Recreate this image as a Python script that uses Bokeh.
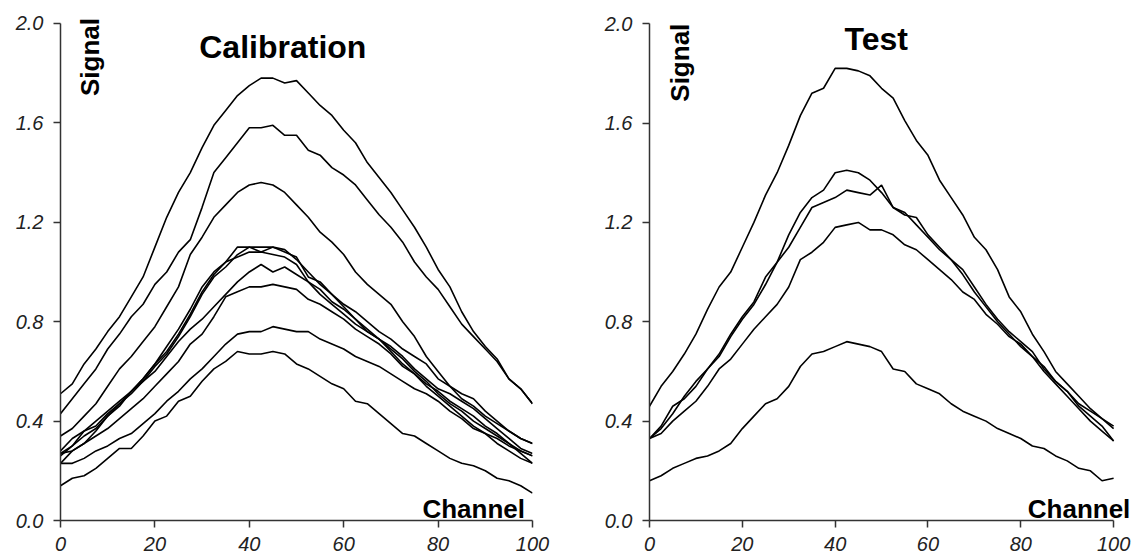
import math
from bokeh.plotting import figure
from bokeh.layouts import row
from bokeh.models import Range1d, FixedTicker, PrintfTickFormatter, Label
from bokeh.embed import file_html
from bokeh.resources import INLINE

# Channel grid shared by every spectrum
channels = [0, 2.5, 5, 7.5, 10, 12.5, 15, 17.5, 20, 22.5, 25, 27.5, 30, 32.5, 35, 37.5,
            40, 42.5, 45, 47.5, 50, 52.5, 55, 57.5, 60, 62.5, 65, 67.5, 70, 72.5, 75,
            77.5, 80, 82.5, 85, 87.5, 90, 92.5, 95, 97.5, 100]

# Calibration spectra (signal per channel)
cal_1 = [0.51, 0.55, 0.63, 0.69, 0.76, 0.82, 0.90, 0.98, 1.10, 1.22, 1.32, 1.40, 1.50, 1.59, 1.65, 1.71,
         1.75, 1.78, 1.78, 1.76, 1.77, 1.72, 1.67, 1.63, 1.57, 1.52, 1.44, 1.38, 1.32, 1.25, 1.18,
         1.10, 1.01, 0.94, 0.84, 0.76, 0.70, 0.65, 0.57, 0.53, 0.47]
cal_2 = [0.43, 0.49, 0.55, 0.61, 0.69, 0.75, 0.82, 0.87, 0.95, 1.00, 1.08, 1.13, 1.26, 1.40, 1.46, 1.52,
         1.58, 1.58, 1.59, 1.55, 1.55, 1.49, 1.47, 1.42, 1.39, 1.35, 1.29, 1.23, 1.18, 1.12, 1.04,
         0.98, 0.93, 0.86, 0.79, 0.74, 0.69, 0.64, 0.57, 0.53, 0.47]
cal_3 = [0.34, 0.37, 0.42, 0.47, 0.54, 0.61, 0.66, 0.72, 0.78, 0.86, 0.94, 1.07, 1.14, 1.22, 1.27, 1.32,
         1.35, 1.36, 1.35, 1.32, 1.27, 1.22, 1.16, 1.12, 1.07, 1.00, 0.95, 0.91, 0.87, 0.80, 0.74,
         0.66, 0.60, 0.54, 0.49, 0.46, 0.42, 0.39, 0.36, 0.33, 0.31]
cal_4 = [0.28, 0.33, 0.36, 0.38, 0.43, 0.47, 0.51, 0.56, 0.62, 0.67, 0.74, 0.82, 0.91, 0.98, 1.02, 1.07,
         1.10, 1.10, 1.10, 1.09, 1.05, 1.00, 0.95, 0.91, 0.87, 0.84, 0.80, 0.76, 0.73, 0.69, 0.66,
         0.63, 0.57, 0.54, 0.51, 0.49, 0.44, 0.40, 0.36, 0.33, 0.31]
cal_5 = [0.27, 0.30, 0.36, 0.40, 0.44, 0.48, 0.52, 0.57, 0.63, 0.68, 0.75, 0.83, 0.92, 0.99, 1.04, 1.10,
         1.10, 1.08, 1.10, 1.08, 1.06, 0.98, 0.96, 0.91, 0.86, 0.81, 0.77, 0.73, 0.70, 0.66, 0.61,
         0.57, 0.53, 0.51, 0.48, 0.45, 0.41, 0.37, 0.33, 0.29, 0.27]
cal_6 = [0.26, 0.30, 0.34, 0.37, 0.42, 0.46, 0.52, 0.57, 0.63, 0.70, 0.77, 0.85, 0.94, 1.00, 1.04, 1.06,
         1.08, 1.08, 1.07, 1.06, 1.03, 0.96, 0.91, 0.87, 0.83, 0.79, 0.76, 0.73, 0.68, 0.63, 0.59,
         0.55, 0.52, 0.48, 0.45, 0.42, 0.38, 0.35, 0.31, 0.27, 0.23]
cal_7 = [0.27, 0.28, 0.31, 0.36, 0.42, 0.47, 0.52, 0.56, 0.60, 0.66, 0.72, 0.77, 0.81, 0.86, 0.91, 0.96,
         1.00, 1.03, 1.00, 1.02, 0.99, 0.96, 0.93, 0.88, 0.85, 0.81, 0.76, 0.73, 0.69, 0.65, 0.60,
         0.56, 0.51, 0.47, 0.44, 0.40, 0.37, 0.34, 0.31, 0.28, 0.26]
cal_8 = [0.23, 0.28, 0.31, 0.34, 0.37, 0.41, 0.45, 0.49, 0.54, 0.59, 0.64, 0.71, 0.75, 0.82, 0.90, 0.92,
         0.94, 0.94, 0.95, 0.94, 0.93, 0.89, 0.87, 0.84, 0.81, 0.77, 0.74, 0.71, 0.67, 0.62, 0.59,
         0.54, 0.50, 0.46, 0.42, 0.38, 0.35, 0.31, 0.28, 0.25, 0.23]
cal_9 = [0.23, 0.23, 0.25, 0.28, 0.30, 0.33, 0.35, 0.39, 0.43, 0.48, 0.52, 0.57, 0.61, 0.66, 0.71, 0.75,
         0.76, 0.76, 0.78, 0.77, 0.76, 0.76, 0.73, 0.71, 0.69, 0.66, 0.64, 0.62, 0.59, 0.56, 0.53,
         0.51, 0.48, 0.44, 0.41, 0.37, 0.35, 0.33, 0.30, 0.28, 0.26]
cal_10 = [0.14, 0.17, 0.18, 0.21, 0.25, 0.29, 0.29, 0.34, 0.40, 0.42, 0.48, 0.50, 0.56, 0.61, 0.64, 0.68,
          0.67, 0.67, 0.68, 0.67, 0.63, 0.61, 0.58, 0.55, 0.53, 0.48, 0.47, 0.43, 0.39, 0.35, 0.34,
          0.31, 0.28, 0.25, 0.23, 0.22, 0.20, 0.17, 0.16, 0.14, 0.11]

# Test spectra
test_1 = [0.46, 0.54, 0.60, 0.67, 0.75, 0.85, 0.94, 1.00, 1.10, 1.20, 1.31, 1.40, 1.51, 1.63, 1.72, 1.74,
          1.82, 1.82, 1.81, 1.79, 1.74, 1.70, 1.61, 1.53, 1.47, 1.37, 1.30, 1.23, 1.14, 1.09, 1.01,
          0.90, 0.84, 0.75, 0.68, 0.60, 0.55, 0.50, 0.45, 0.41, 0.37]
test_2 = [0.33, 0.38, 0.46, 0.49, 0.54, 0.61, 0.67, 0.75, 0.82, 0.88, 0.98, 1.04, 1.15, 1.24, 1.30, 1.33,
          1.40, 1.41, 1.40, 1.37, 1.32, 1.26, 1.23, 1.22, 1.15, 1.10, 1.05, 1.01, 0.94, 0.87, 0.81,
          0.76, 0.72, 0.68, 0.61, 0.56, 0.52, 0.46, 0.42, 0.38, 0.32]
test_3 = [0.33, 0.37, 0.43, 0.50, 0.56, 0.61, 0.66, 0.74, 0.81, 0.87, 0.95, 1.04, 1.10, 1.18, 1.26, 1.28,
          1.30, 1.33, 1.32, 1.31, 1.35, 1.26, 1.24, 1.19, 1.14, 1.09, 1.05, 0.99, 0.92, 0.86, 0.80,
          0.75, 0.70, 0.66, 0.60, 0.55, 0.50, 0.45, 0.40, 0.36, 0.32]
test_4 = [0.33, 0.35, 0.40, 0.44, 0.48, 0.54, 0.61, 0.65, 0.71, 0.77, 0.82, 0.87, 0.94, 1.05, 1.08, 1.12,
          1.18, 1.19, 1.20, 1.17, 1.17, 1.15, 1.11, 1.09, 1.05, 1.01, 0.97, 0.92, 0.89, 0.83, 0.79,
          0.74, 0.71, 0.66, 0.62, 0.56, 0.52, 0.47, 0.44, 0.41, 0.38]
test_5 = [0.16, 0.18, 0.21, 0.23, 0.25, 0.26, 0.28, 0.31, 0.37, 0.42, 0.47, 0.49, 0.54, 0.62, 0.67, 0.68,
          0.70, 0.72, 0.71, 0.70, 0.68, 0.61, 0.60, 0.55, 0.53, 0.51, 0.47, 0.44, 0.42, 0.40, 0.37,
          0.35, 0.33, 0.30, 0.29, 0.26, 0.24, 0.21, 0.20, 0.16, 0.17]

x_ticks = [0, 20, 40, 60, 80, 100]
y_ticks = [0.0, 0.4, 0.8, 1.2, 1.6, 2.0]

FONT = "Liberation Sans"


def make_panel(width, borders, x_end, y_end, series, title, title_pos,
               signal_pos, channel_pos):
    left, right, top, bottom = borders
    p = figure(width=width, height=556, title=None,
               x_range=Range1d(0, x_end), y_range=Range1d(0, y_end),
               output_backend="svg", toolbar_location=None,
               min_border_left=left, min_border_right=right,
               min_border_top=top, min_border_bottom=bottom)
    p.outline_line_color = None
    p.xgrid.visible = False
    p.ygrid.visible = False
    p.background_fill_color = "white"
    p.border_fill_color = "white"

    for ys in series:
        p.line(channels, ys, line_color="black", line_width=1.6)

    for ax in (p.xaxis[0], p.yaxis[0]):
        ax.axis_line_color = "#333333"
        ax.axis_line_width = 1.5
        ax.major_tick_line_color = "#333333"
        ax.major_tick_line_width = 1.5
        ax.major_tick_out = 7
        ax.major_tick_in = 0
        ax.minor_tick_line_color = None
        ax.minor_tick_out = 0
        ax.axis_label = None
        ax.axis_label_standoff = 0
        ax.major_label_text_font = FONT
        ax.major_label_text_font_style = "italic"
        ax.major_label_text_font_size = "20px"
        ax.major_label_text_color = "#222222"

    # axis lines stop at the last tick even though the frame is a bit larger
    p.xaxis.bounds = (0, 100)
    p.yaxis.bounds = (0, 2.0)
    p.xaxis.ticker = FixedTicker(ticks=x_ticks)
    p.yaxis.ticker = FixedTicker(ticks=y_ticks)
    p.yaxis.formatter = PrintfTickFormatter(format="%.1f")
    # a short line height keeps the bottom panel compact so the frame
    # reaches down to y = 0 at the intended place
    p.xaxis.major_label_text_line_height = 0.5
    p.xaxis.major_label_standoff = 9
    p.yaxis.major_label_standoff = 10

    p.add_layout(Label(x=title_pos[0], y=title_pos[1], text=title,
                       text_font=FONT, text_font_style="bold",
                       text_font_size="32px", text_align="center",
                       text_baseline="alphabetic", text_color="black"))
    p.add_layout(Label(x=signal_pos[0], y=signal_pos[1], text="Signal",
                       angle=math.pi / 2, text_font=FONT,
                       text_font_style="bold", text_font_size="26px",
                       text_align="right", text_baseline="middle",
                       text_color="black"))
    p.add_layout(Label(x=channel_pos[0], y=channel_pos[1], text="Channel",
                       text_font=FONT, text_font_style="bold",
                       text_font_size="26px", text_align="right",
                       text_baseline="alphabetic", text_color="black"))
    return p


calibration = make_panel(
    590, (60, 58, 9, 30), 100, 2.04,
    [cal_1, cal_2, cal_3, cal_4, cal_5, cal_6, cal_7, cal_8, cal_9, cal_10],
    "Calibration", (47.1, 1.905), (6.25, 2.022), (98.4, 0.047))

test = make_panel(
    546, (59, 2, 13, 36), 104.5, 2.041,
    [test_1, test_2, test_3, test_4, test_5],
    "Test", (48.85, 1.939), (6.55, 2.0), (103.6, 0.045))

layout = row(calibration, test)

open("out.html", "w").write(file_html(layout, INLINE))
